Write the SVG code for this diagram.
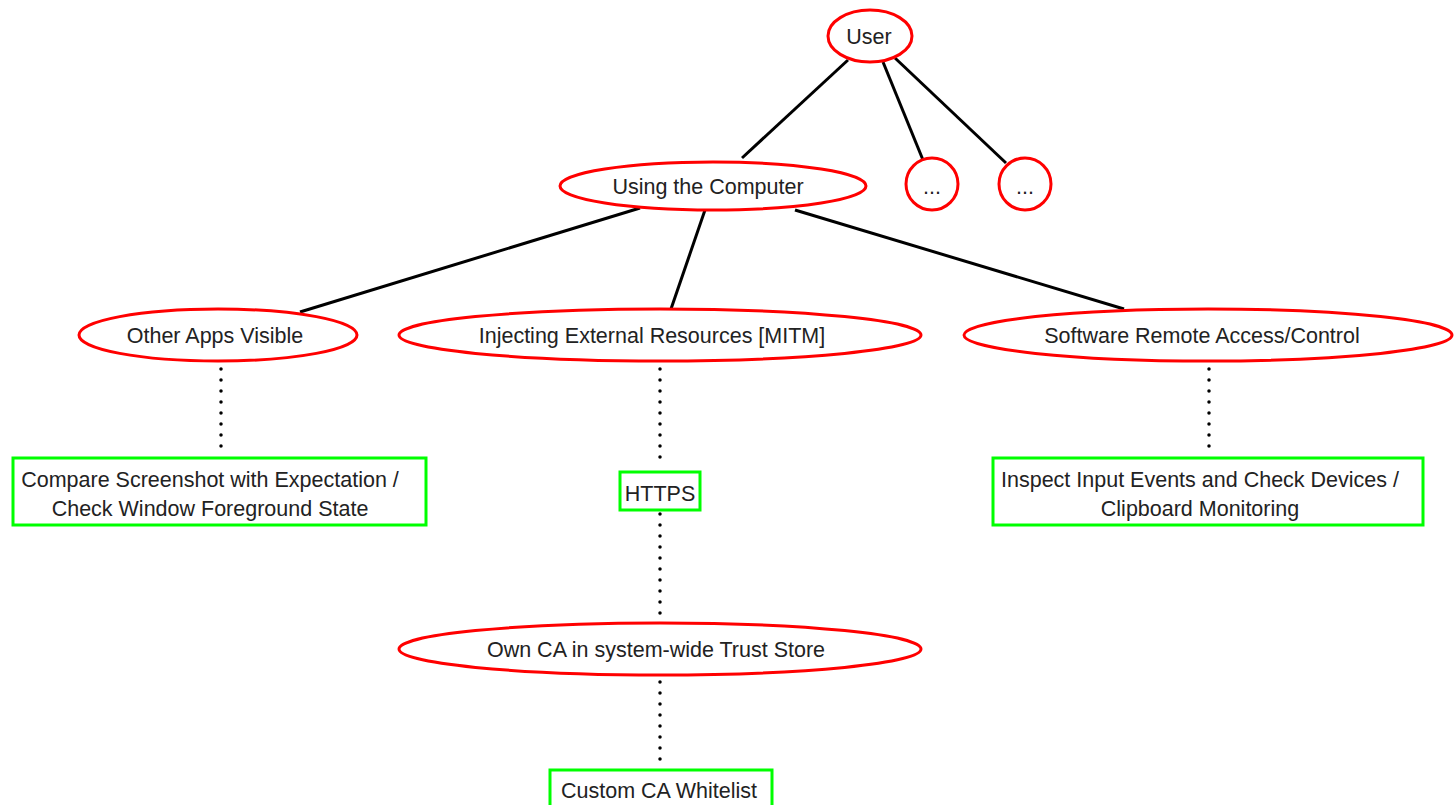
<svg xmlns="http://www.w3.org/2000/svg" width="1455" height="805" viewBox="0 0 1455 805">
<style>
.n{fill:#fff;stroke:#ff0000;stroke-width:3}
.b{fill:#fff;stroke:#00ff00;stroke-width:3}
.t{font-family:"Liberation Sans",Arial,sans-serif;font-size:21.5px;fill:#222;text-anchor:middle}
.s{stroke:#000;stroke-width:3;fill:none}
.d{stroke:#000;stroke-width:3.5;fill:none;stroke-linecap:round;stroke-dasharray:0 11}
</style>
<rect width="1455" height="805" fill="#fff"/>
<g id="connectors">
<line class="s" x1="848" y1="60" x2="742" y2="158"/>
<line class="s" x1="883" y1="62" x2="923" y2="160"/>
<line class="s" x1="895" y1="58" x2="1006" y2="163"/>
<line class="s" x1="640" y1="208" x2="300" y2="312"/>
<line class="s" x1="705" y1="210" x2="671" y2="309"/>
<line class="s" x1="795" y1="210" x2="1124" y2="309"/>
<line class="d" x1="221" y1="369" x2="221" y2="450"/>
<line class="d" x1="660" y1="369" x2="660" y2="467"/>
<line class="d" x1="660" y1="514" x2="660" y2="617"/>
<line class="d" x1="660" y1="682" x2="660" y2="762"/>
<line class="d" x1="1209" y1="369" x2="1209" y2="450"/>
</g>
<g id="user"><ellipse class="n" cx="870" cy="36" rx="42" ry="26"/><text class="t" x="869" y="44">User</text></g>
<g id="more1"><circle class="n" cx="932" cy="184" r="26"/><text class="t" x="932" y="194">...</text></g>
<g id="more2"><circle class="n" cx="1025" cy="184" r="26"/><text class="t" x="1025" y="194">...</text></g>
<g id="using"><ellipse class="n" cx="713" cy="186" rx="153" ry="24"/><text class="t" x="708" y="194">Using the Computer</text></g>
<g id="other"><ellipse class="n" cx="218" cy="335" rx="139" ry="26"/><text class="t" x="215" y="343">Other Apps Visible</text></g>
<g id="inject"><ellipse class="n" cx="660" cy="335" rx="261" ry="26"/><text class="t" x="652" y="343">Injecting External Resources [MITM]</text></g>
<g id="remote"><ellipse class="n" cx="1208" cy="335" rx="244" ry="26"/><text class="t" x="1202" y="343">Software Remote Access/Control</text></g>
<g id="compare"><rect class="b" x="13" y="458" width="413" height="67"/><text class="t" x="210" y="487">Compare Screenshot with Expectation /</text><text class="t" x="210" y="516">Check Window Foreground State</text></g>
<g id="https"><rect class="b" x="620" y="472" width="80" height="38"/><text class="t" x="660" y="501">HTTPS</text></g>
<g id="inspect"><rect class="b" x="993" y="458" width="430" height="67"/><text class="t" x="1200" y="487">Inspect Input Events and Check Devices /</text><text class="t" x="1200" y="516">Clipboard Monitoring</text></g>
<g id="ownca"><ellipse class="n" cx="660" cy="649" rx="261" ry="26"/><text class="t" x="656" y="657">Own CA in system-wide Trust Store</text></g>
<g id="custom"><rect class="b" x="550" y="770" width="222" height="40"/><text class="t" x="659" y="798">Custom CA Whitelist</text></g>
</svg>
